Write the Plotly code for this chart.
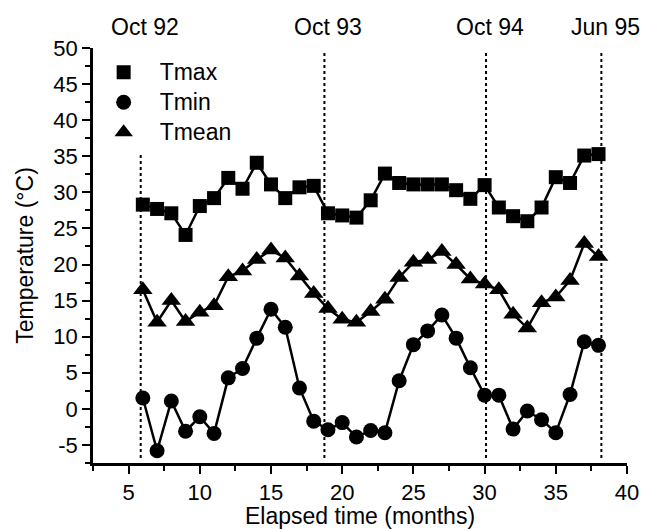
import plotly.graph_objects as go

months = list(range(6, 39))
tmax = [28.3, 27.7, 27.1, 24.1, 28.1, 29.2, 32.0, 30.5, 34.1, 31.1, 29.2, 30.7, 30.9,
        27.1, 26.8, 26.5, 28.9, 32.6, 31.3, 31.1, 31.1, 31.1, 30.3, 29.1, 31.0,
        27.9, 26.7, 26.0, 27.9, 32.1, 31.3, 35.1, 35.3]
tmin = [1.5, -5.8, 1.1, -3.1, -1.1, -3.4, 4.3, 5.6, 9.8, 13.8, 11.3, 2.9, -1.7,
        -2.9, -1.9, -3.9, -3.0, -3.3, 3.9, 8.9, 10.8, 13.0, 9.8, 5.7, 1.9,
        1.9, -2.8, -0.3, -1.5, -3.3, 2.0, 9.3, 8.8]
tmean = [16.5, 12.0, 15.0, 12.1, 13.4, 14.3, 18.3, 19.1, 20.7, 22.0, 20.9, 18.4, 16.0,
         13.9, 12.4, 12.0, 13.5, 15.2, 18.2, 20.3, 20.7, 21.8, 20.0, 18.0, 17.3,
         16.5, 13.1, 11.2, 14.7, 15.5, 17.8, 22.9, 21.1]

y_ticks = [-5, 0, 5, 10, 15, 20, 25, 30, 35, 40, 45, 50]
y_ticklabels = ["-5", "0", "5", "10", "15", "20", "25", "30", "35", "40", "45", "50"]
x_ticks = [5, 10, 15, 20, 25, 30, 35, 40]

marker_lines = [5.85, 18.75, 30.1, 38.2]
marker_labels = ["Oct 92", "Oct 93", "Oct 94", "Jun 95"]
line_tops = [35.6, 49.5, 49.5, 49.5]
line_bottom = -6.8

FONT = "Liberation Sans, Arial, Helvetica, sans-serif"

series = [("Tmax", tmax, "square", 14), ("Tmin", tmin, "circle", 15), ("Tmean", tmean, "triangle-up", 17)]

fig = go.Figure()
for name, vals, sym, size in series:
    fig.add_trace(go.Scatter(x=months, y=vals, mode="lines+markers", showlegend=False,
                             line=dict(color="black", width=2.5),
                             marker=dict(symbol=sym, size=size, color="black")))
for name, vals, sym, size in series:
    fig.add_trace(go.Scatter(x=[None], y=[None], mode="markers",
                             name='<span style="font-size:23px">' + name + '</span>',
                             marker=dict(symbol=sym, size=size, color="black")))

for xv, top, lab in zip(marker_lines, line_tops, marker_labels):
    fig.add_shape(type="line", xref="x", yref="y", x0=xv, x1=xv, y0=line_bottom, y1=top,
                  line=dict(color="black", width=2, dash="dot"), layer="below")
    fig.add_annotation(x=xv, y=1.051, xref="x", yref="paper", text=lab, showarrow=False,
                       xshift=4, yanchor="middle", font=dict(family=FONT, size=23, color="black"))

axis_common = dict(showline=True, linecolor="black", linewidth=2.5, ticks="outside",
                   ticklen=8, tickwidth=2, tickcolor="black", showgrid=False, zeroline=False,
                   automargin=False,
                   tickfont=dict(family=FONT, size=22, color="black"))

fig.update_layout(
    width=645, height=529,
    margin=dict(l=93, r=18, t=48, b=66),
    paper_bgcolor="white", plot_bgcolor="white",
    font=dict(family=FONT, size=23, color="black"),
    xaxis=dict(range=[2.5, 40], tickmode="array", tickvals=x_ticks,
               minor=dict(dtick=2.5, tick0=0, ticklen=5, tickwidth=2, tickcolor="black", ticks="outside"),
               title=dict(text="Elapsed time (months)", font=dict(family=FONT, size=23), standoff=13),
               **axis_common),
    yaxis=dict(range=[-7.5, 50], tickmode="array", tickvals=y_ticks, ticktext=y_ticklabels,
               minor=dict(dtick=2.5, tick0=0, ticklen=5, tickwidth=2, tickcolor="black", ticks="outside"),
               title=dict(text="Temperature (°C)", font=dict(family=FONT, size=23), standoff=14),
               **axis_common),
    legend=dict(x=-0.01, y=0.99, xanchor="left", yanchor="top", bgcolor="rgba(0,0,0,0)",
                font=dict(family=FONT, size=20.8, color="black"), itemwidth=62),
)

fig.write_html("out.html")
